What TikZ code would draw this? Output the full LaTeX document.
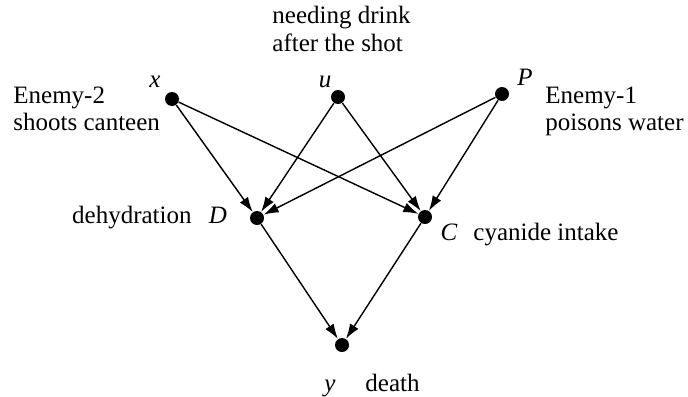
\documentclass[tikz,border=0pt]{standalone}
\usepackage{fontspec}
\setmainfont{Liberation Serif}
\usetikzlibrary{arrows.meta}

\begin{document}
\begin{tikzpicture}[x=0.5pt, y=-0.5pt,
    font=\fontsize{12.5}{13.5}\selectfont,
    dot/.style={circle, fill=black, inner sep=0pt, minimum size=7pt},
    var/.style={inner sep=0pt, anchor=base, font=\fontsize{12.5}{13.5}\selectfont\itshape},
    txt/.style={inner sep=0pt, align=left},
    edge/.style={-{Latex[length=7.5pt, width=5pt]}, line width=0.7pt}]
  \useasboundingbox (0,0) rectangle (688,396);
  % variables
  \node[dot] (x) at (172,99) {};
  \node[dot] (u) at (338,97) {};
  \node[dot] (P) at (502,94) {};
  \node[dot] (D) at (257,218) {};
  \node[dot] (C) at (425,217) {};
  \node[dot] (y) at (342,345) {};
  % letters
  \node[var] (xl) at (155,87) {x};
  \node[var] (ul) at (325,87) {u};
  \node[var] (Pl) at (525,85) {P};
  \node[var] (Dl) at (218,223) {D};
  \node[var] (Cl) at (449,240) {C};
  \node[var] (yl) at (330,391) {y};
  % meanings
  \node[txt, anchor=base west] (enemy2) at (13,130) {Enemy-2\\shoots canteen};
  \node[txt, anchor=base west] (drink) at (272,51) {needing drink\\after the shot};
  \node[txt, anchor=base west] (enemy1) at (545,130) {Enemy-1\\poisons water};
  \node[txt, anchor=base east] (dehyd) at (192,223) {dehydration};
  \node[txt, anchor=base west] (cyan) at (473,240) {cyanide intake};
  \node[txt, anchor=base west] (death) at (365,391) {death};
  % arrows
  \foreach \a/\b in {x/D, x/C, u/D, u/C, P/D, P/C, D/y, C/y}
    \draw[edge] (\a) -- (\b);
\end{tikzpicture}
\end{document}
